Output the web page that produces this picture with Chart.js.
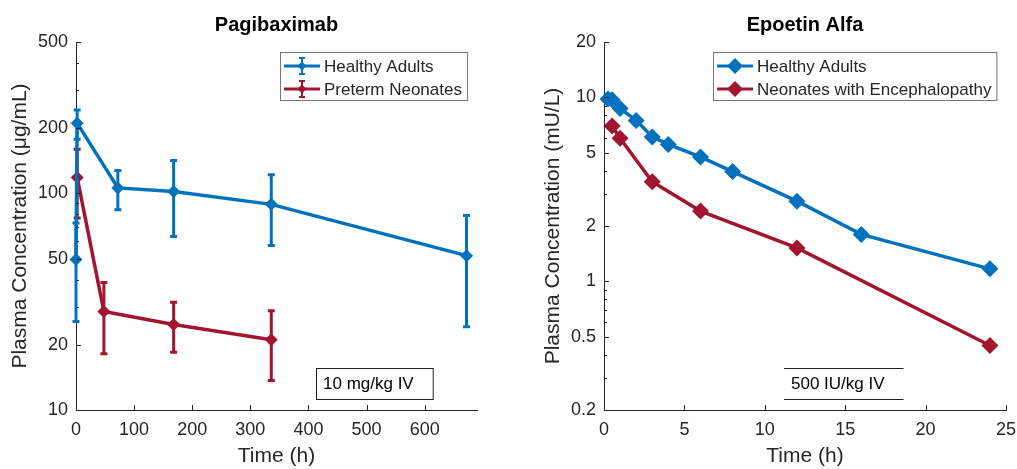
<!DOCTYPE html>
<html>
<head>
<meta charset="utf-8">
<script src="https://cdn.jsdelivr.net/npm/chart.js@4.4.0/dist/chart.umd.min.js"></script>
<style>
  body { margin: 0; background: #fff; width: 1017px; height: 469px; overflow: hidden; position: relative; }
  #pagiChart { position: absolute; left: 0; top: 0; }
  #epoChart { position: absolute; left: 510px; top: 0; }
</style>
</head>
<body>
<canvas id="pagiChart" width="505" height="469"></canvas>
<canvas id="epoChart" width="507" height="469"></canvas>
<script>
// Pagibaximab, ug/mL (mean with error bars)
var pagiAdultTime = [0, 2, 72, 168, 336, 672];
var pagiAdultConc = [49.5, 211, 106, 102, 89, 51.6];
var pagiAdultLow  = [25.6, 178, 84, 63.3, 57.4, 24.2];
var pagiAdultHigh = [73, 243, 127.6, 142, 122, 79.1];

var pagiNeoTime = [2, 48, 168, 336];
var pagiNeoConc = [118.5, 28.5, 24.8, 21.1];
var pagiNeoLow  = [77, 18.2, 18.5, 13.7];
var pagiNeoHigh = [160, 38.8, 31.4, 28.7];

var pagiXTicks = [0, 100, 200, 300, 400, 500, 600];
var pagiYTicks = [10, 20, 30, 40, 50, 60, 70, 80, 90, 100, 200, 300, 400, 500];
var pagiYLabels = [10, 20, 50, 100, 200, 500];

// Epoetin alfa, mU/L
var epoAdultTime = [0.25, 0.5, 1, 2, 3, 4, 6, 8, 12, 16, 24];
var epoAdultConc = [9.8, 9.7, 8.7, 7.5, 6.1, 5.55, 4.75, 3.95, 2.73, 1.8, 1.17];

var epoNeoTime = [0.5, 1, 3, 6, 12, 24];
var epoNeoConc = [7.0, 6.0, 3.48, 2.41, 1.52, 0.448];

var epoXTicks = [0, 5, 10, 15, 20, 25];
var epoYTicks = [0.2, 0.3, 0.4, 0.5, 0.6, 0.7, 0.8, 0.9, 1, 2, 3, 4, 5, 6, 7, 8, 9, 10, 20];
var epoYLabels = [0.2, 0.5, 1, 2, 5, 10, 20];

var blue = '#0072BD';
var red = '#A2142F';
var ink = '#262626';
var fontFamily = "'Liberation Sans', Arial, Helvetica, sans-serif";

Chart.defaults.font.family = fontFamily;
Chart.defaults.color = ink;

function points(xs, ys) {
  return xs.map(function(x, i) { return { x: x, y: ys[i] }; });
}

function diamond(ctx, x, y, r, color) {
  ctx.beginPath();
  ctx.moveTo(x, y - r);
  ctx.lineTo(x + r, y);
  ctx.lineTo(x, y + r);
  ctx.lineTo(x - r, y);
  ctx.closePath();
  ctx.fillStyle = color;
  ctx.fill();
}

// vertical error bars with caps, under the line and markers
var errorBars = {
  id: 'errorBars',
  beforeDatasetDraw: function(chart, args) {
    var ds = chart.data.datasets[args.index];
    if (!ds.errLow) return;
    var ctx = chart.ctx, xs = chart.scales.x, ys = chart.scales.y;
    ctx.save();
    ctx.strokeStyle = ds.borderColor;
    ctx.lineWidth = 3;
    ds.data.forEach(function(p, i) {
      var px = xs.getPixelForValue(p.x);
      var top = ys.getPixelForValue(ds.errHigh[i]);
      var bot = ys.getPixelForValue(ds.errLow[i]);
      ctx.beginPath();
      ctx.moveTo(px, top); ctx.lineTo(px, bot);
      ctx.moveTo(px - 3.5, top); ctx.lineTo(px + 3.5, top);
      ctx.moveTo(px - 3.5, bot); ctx.lineTo(px + 3.5, bot);
      ctx.stroke();
    });
    ctx.restore();
  }
};

// title, inward ticks, boxed legend and dose note (matlab look)
var decor = {
  id: 'decor',
  afterDraw: function(chart, args, opts) {
    var ctx = chart.ctx, area = chart.chartArea;
    var xs = chart.scales.x, ys = chart.scales.y;
    ctx.save();

    ctx.font = 'bold 20px ' + fontFamily;
    ctx.fillStyle = '#000';
    ctx.textAlign = 'center';
    ctx.textBaseline = 'middle';
    ctx.fillText(opts.title, (area.left + area.right) / 2, 25);

    ctx.strokeStyle = ink;
    ctx.lineWidth = 1;
    xs.ticks.forEach(function(t) {
      var px = Math.round(xs.getPixelForValue(t.value)) + 0.5;
      ctx.beginPath();
      ctx.moveTo(px, area.bottom);
      ctx.lineTo(px, area.bottom - 5);
      ctx.stroke();
    });
    ys.ticks.forEach(function(t) {
      var py = Math.round(ys.getPixelForValue(t.value)) + 0.5;
      var len = t.label ? 5 : 3;
      ctx.beginPath();
      ctx.moveTo(area.left, py);
      ctx.lineTo(area.left + len, py);
      ctx.stroke();
    });

    // legend
    ctx.font = '17px ' + fontFamily;
    var sets = chart.data.datasets;
    var tw = 0;
    sets.forEach(function(d) { tw = Math.max(tw, ctx.measureText(d.label).width); });
    var bw = 44 + tw + 5, bh = 48;
    var bx = Math.round(area.right - 10 - bw), by = Math.round(area.top + 10);
    ctx.fillStyle = '#fff';
    ctx.fillRect(bx, by, bw, bh);
    ctx.strokeStyle = '#777';
    ctx.lineWidth = 1;
    ctx.strokeRect(bx + 0.5, by + 0.5, bw, bh);
    sets.forEach(function(d, i) {
      var cy = by + 14 + i * 23;
      ctx.strokeStyle = d.borderColor;
      ctx.lineWidth = 3;
      ctx.beginPath();
      ctx.moveTo(bx + 4, cy);
      ctx.lineTo(bx + 40, cy);
      ctx.stroke();
      if (d.errLow) {
        ctx.lineWidth = 2;
        ctx.beginPath();
        ctx.moveTo(bx + 22, cy - 8); ctx.lineTo(bx + 22, cy + 8);
        ctx.moveTo(bx + 19, cy - 8); ctx.lineTo(bx + 25, cy - 8);
        ctx.moveTo(bx + 19, cy + 8); ctx.lineTo(bx + 25, cy + 8);
        ctx.stroke();
      }
      diamond(ctx, bx + 22, cy, opts.legendMarker, d.borderColor);
      ctx.fillStyle = ink;
      ctx.textAlign = 'left';
      ctx.textBaseline = 'middle';
      ctx.fillText(d.label, bx + 44, cy + 1);
    });

    // dose note
    var nw = ctx.measureText(opts.note).width + 26, nh = 31;
    var nx = Math.round(area.left + opts.noteOffset), ny = Math.round(area.bottom - 42);
    ctx.strokeStyle = '#222';
    ctx.lineWidth = 1;
    if (opts.noteSides) {
      ctx.strokeRect(nx + 0.5, ny + 0.5, nw, nh);
    } else {
      ctx.beginPath();
      ctx.moveTo(nx, ny + 0.5); ctx.lineTo(nx + nw, ny + 0.5);
      ctx.moveTo(nx, ny + nh + 0.5); ctx.lineTo(nx + nw, ny + nh + 0.5);
      ctx.stroke();
    }
    ctx.fillStyle = '#000';
    ctx.fillText(opts.note, nx + 7, ny + nh / 2 + 1);
    ctx.restore();
  }
};

function makeChart(id, cfg) {
  return new Chart(document.getElementById(id), {
    type: 'line',
    data: { datasets: cfg.datasets },
    options: {
      responsive: false,
      animation: false,
      devicePixelRatio: 1,
      layout: { padding: { left: 0, top: 42, right: cfg.padRight, bottom: 0 } },
      plugins: {
        legend: { display: false },
        tooltip: { enabled: false },
        decor: cfg.decor
      },
      scales: {
        x: {
          type: 'linear',
          min: cfg.xMin,
          max: cfg.xMax,
          grid: { display: false, drawTicks: false },
          border: { display: true, color: ink, width: 1 },
          afterBuildTicks: function(scale) {
            scale.ticks = cfg.xTicks.map(function(v) { return { value: v }; });
          },
          afterFit: function(scale) {
            scale.height = 59;
            scale.paddingLeft = 0;
            scale.paddingRight = 0;
          },
          ticks: { font: { size: 18 }, color: ink, padding: 9, maxRotation: 0 },
          title: { display: true, text: 'Time (h)', font: { size: 21 }, color: ink, padding: { top: 0, bottom: 0 } }
        },
        y: {
          type: 'logarithmic',
          min: cfg.yMin,
          max: cfg.yMax,
          grid: { display: false, drawTicks: false },
          border: { display: true, color: ink, width: 1 },
          afterBuildTicks: function(scale) {
            scale.ticks = cfg.yTicks.map(function(v) { return { value: v }; });
          },
          afterFit: function(scale) {
            scale.width = cfg.yWidth;
            scale.paddingTop = 0;
            scale.paddingBottom = 0;
          },
          ticks: {
            font: { size: 18 },
            color: ink,
            padding: 8,
            autoSkip: false,
            callback: function(v) { return cfg.yLabels.indexOf(v) >= 0 ? String(v) : ''; }
          },
          title: { display: true, text: cfg.yTitle, font: { size: 21 }, color: ink, padding: { top: cfg.yTitlePad, bottom: 0 } }
        }
      }
    },
    plugins: [errorBars, decor]
  });
}

makeChart('pagiChart', {
  padRight: 28,
  yWidth: 76,
  yTitlePad: 8,
  xMin: 0, xMax: 690, xTicks: pagiXTicks,
  yMin: 10, yMax: 500, yTicks: pagiYTicks, yLabels: pagiYLabels,
  yTitle: 'Plasma Concentration (\u03BCg/mL)',
  decor: { title: 'Pagibaximab', legendMarker: 4.5, note: '10 mg/kg IV', noteOffset: 240, noteSides: true },
  datasets: [{
    label: 'Healthy Adults',
    data: points(pagiAdultTime, pagiAdultConc),
    errLow: pagiAdultLow,
    errHigh: pagiAdultHigh,
    borderColor: blue,
    backgroundColor: blue,
    borderWidth: 3.5,
    pointStyle: 'rectRot',
    pointRadius: 6.5,
    pointBorderWidth: 0,
    clip: false
  }, {
    label: 'Preterm Neonates',
    data: points(pagiNeoTime, pagiNeoConc),
    errLow: pagiNeoLow,
    errHigh: pagiNeoHigh,
    borderColor: red,
    backgroundColor: red,
    borderWidth: 3.5,
    pointStyle: 'rectRot',
    pointRadius: 6.5,
    pointBorderWidth: 0,
    clip: false
  }]
});

makeChart('epoChart', {
  padRight: 11,
  yWidth: 94,
  yTitlePad: 31,
  xMin: 0, xMax: 25, xTicks: epoXTicks,
  yMin: 0.2, yMax: 20, yTicks: epoYTicks, yLabels: epoYLabels,
  yTitle: 'Plasma Concentration (mU/L)',
  decor: { title: 'Epoetin Alfa', legendMarker: 8, note: '500 IU/kg IV', noteOffset: 180, noteSides: false },
  datasets: [{
    label: 'Healthy Adults',
    data: points(epoAdultTime, epoAdultConc),
    borderColor: blue,
    backgroundColor: blue,
    borderWidth: 3.5,
    pointStyle: 'rectRot',
    pointRadius: 8.5,
    pointBorderWidth: 0,
    clip: false
  }, {
    label: 'Neonates with Encephalopathy',
    data: points(epoNeoTime, epoNeoConc),
    borderColor: red,
    backgroundColor: red,
    borderWidth: 3.5,
    pointStyle: 'rectRot',
    pointRadius: 8.5,
    pointBorderWidth: 0,
    clip: false
  }]
});
</script>
</body>
</html>
